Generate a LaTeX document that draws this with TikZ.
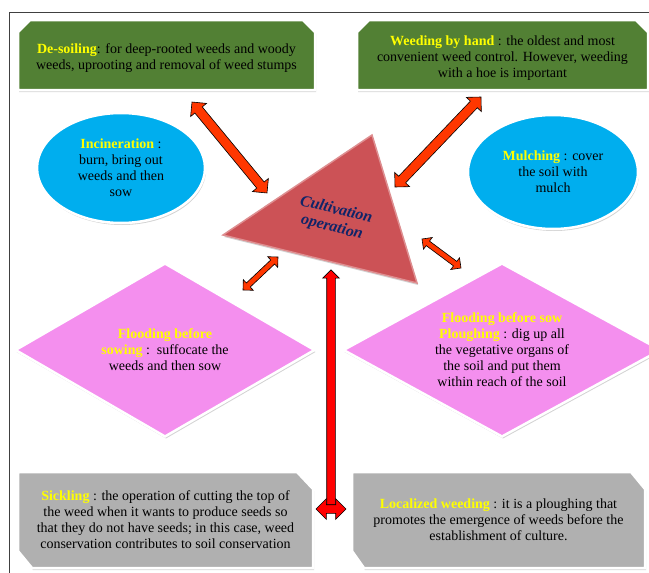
\documentclass[tikz,border=0pt]{standalone}
\usepackage{fontspec}
\setmainfont{Liberation Serif}
\usetikzlibrary{calc,shapes.geometric,shapes.arrows,shadows}

\definecolor{boxgreen}{RGB}{82,128,52}
\definecolor{boxgray}{RGB}{176,176,176}
\definecolor{ovalblue}{RGB}{0,174,238}
\definecolor{diapink}{RGB}{244,143,238}
\definecolor{trired}{RGB}{204,82,86}
\definecolor{titlenavy}{RGB}{16,36,104}
\definecolor{arrowred}{RGB}{255,55,0}
\definecolor{headyellow}{RGB}{255,255,0}

\newcommand\headtxt[1]{\textbf{\textcolor{headyellow}{#1}}}
% block arrow laid along the line between two points
\newcommand\blockarrow[3]{%
  \path let \p1=($(#3)-(#2)$), \n1={veclen(\x1,\y1)} in
    (#2) -- (#3) node[midway, sloped, allow upside down, #1, minimum height=\n1]{};}

\begin{document}
\begin{tikzpicture}[x=1pt, y=-1pt,
  every node/.style={font=\rmfamily\fontsize{14}{16}\selectfont, align=center},
  softshadow/.style={drop shadow={opacity=0.35, shadow xshift=1pt, shadow yshift=-2pt}},
  greenbox/.style={fill=boxgreen, draw=white, line width=2.5pt, softshadow},
  graybox/.style={greenbox, fill=boxgray},
  oval/.style={ellipse, fill=ovalblue, draw=white, line width=2.5pt, softshadow, inner sep=0pt},
  floodbox/.style={diamond, aspect=1.75, fill=diapink, draw=white, line width=2.5pt, softshadow, inner sep=0pt},
  trishape/.style={fill=trired, draw=trired!65!white, line width=1.5pt, softshadow},
  framepen/.style={draw=black!75, line width=1pt},
  dblarrow/.style={double arrow, draw=black, line width=0.6pt, fill=arrowred, inner xsep=0pt,
    inner ysep=4.5pt, double arrow head extend=5.5pt},
  smallarrow/.style={dblarrow, inner ysep=2.5pt, double arrow head extend=4.5pt},
  uparrow/.style={single arrow, draw=black, line width=0.6pt, fill=red, inner xsep=0pt,
    inner ysep=4pt, single arrow head extend=4pt},
  sidearrow/.style={dblarrow, fill=red, inner ysep=4pt, double arrow head extend=6pt}
]
\clip (0,0) rectangle (649,573);
% Draw the frame
\draw[framepen] (660,12) -- (9,12) -- (9,580);

% Draw the green boxes (top corners cut)
\path[greenbox] (18,32) -- (30,20) -- (303,20) -- (315,32) -- (315,90) -- (18,90) -- cycle;
\path[greenbox] (357,32) -- (369,20) -- (636,20) -- (648,32) -- (648,90) -- (357,90) -- cycle;
\node (desoil) at (166.5,58)
  {\headtxt{De-soiling}: for deep-rooted weeds and woody\\weeds, uprooting and removal of weed stumps};
\node (byhand) at (502.5,58)
  {\headtxt{Weeding by hand} : the oldest and most\\convenient weed control. However, weeding\\with a hoe is important};

% Draw the ovals
\node[oval, minimum width=168, minimum height=110] (incin) at (121,168)
  {\headtxt{Incineration} :\\burn, bring out\\weeds and then\\sow};
\node[oval, minimum width=170, minimum height=114] (mulch) at (553,172)
  {\headtxt{Mulching} : cover\\the soil with\\mulch};

% Draw the diamonds
\node[floodbox, minimum width=300, minimum height=174] (flood) at (165,350)
  {\headtxt{Flooding before}\\\headtxt{sowing} :\ \ suffocate the\\weeds and then sow};
\node[floodbox, minimum width=318, minimum height=174] (plough) at (502,350)
  {\headtxt{Flooding before sow}\\\headtxt{Ploughing} : dig up all\\the vegetative organs of\\the soil and put them\\within reach of the soil};

% Draw the grey boxes (top right and bottom left cut)
\path[graybox] (18,472) -- (297,472) -- (313,489) -- (313,568) -- (32,568) -- (18,551) -- cycle;
\path[graybox] (352,472) -- (631,472) -- (645,489) -- (645,568) -- (364,568) -- (352,551) -- cycle;
\node (sickle) at (165.5,520)
  {\headtxt{Sickling} : the operation of cutting the top of\\the weed when it wants to produce seeds so\\that they do not have seeds; in this case, weed\\conservation contributes to soil conservation};
\node (localw) at (498.5,520)
  {\headtxt{Localized weeding} : it is a ploughing that\\promotes the emergence of weeds before the\\establishment of culture.};

% Draw the central triangle
\coordinate (tritop) at (372,135);
\coordinate (trileft) at (223,235);
\coordinate (triright) at (417,283);
\path[trishape] (tritop) -- (trileft) -- (triright) -- cycle;
\node[rotate=-14, font=\rmfamily\fontsize{16}{18}\selectfont\bfseries\itshape, text=titlenavy] (cult) at (334,219)
  {Cultivation\\operation};

% Arrow ends
\coordinate (ds-a) at (192,102);  \coordinate (ds-b) at (267,193);
\coordinate (wh-a) at (481,97);   \coordinate (wh-b) at (395,187);
\coordinate (fl-a) at (243,290);  \coordinate (fl-b) at (278,257);
\coordinate (pl-a) at (422,239);  \coordinate (pl-b) at (461,268);
\coordinate (up-a) at (331,507);  \coordinate (up-b) at (331,272);
\coordinate (sd-a) at (316,509);  \coordinate (sd-b) at (346,509);

% Draw the arrows
\blockarrow{dblarrow}{ds-a}{ds-b}
\blockarrow{dblarrow}{wh-a}{wh-b}
\blockarrow{smallarrow}{fl-a}{fl-b}
\blockarrow{smallarrow}{pl-a}{pl-b}
\blockarrow{uparrow}{up-a}{up-b}
\blockarrow{sidearrow}{sd-a}{sd-b}
\end{tikzpicture}
\end{document}
